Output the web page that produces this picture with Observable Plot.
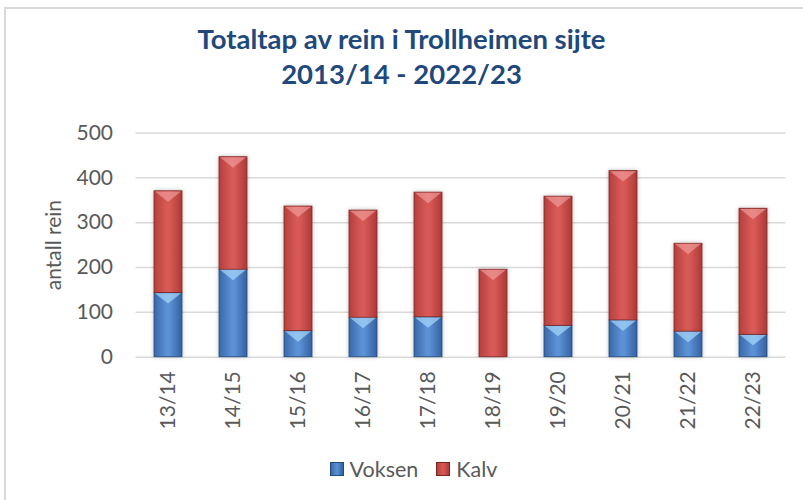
<!DOCTYPE html>
<html><head><meta charset="utf-8">
<script src="https://cdn.jsdelivr.net/npm/d3@7"></script>
<script src="https://cdn.jsdelivr.net/npm/@observablehq/plot@0.6"></script>
<style>
body{margin:0;background:#fff;}
#wrap{position:relative;width:803px;height:500px;overflow:hidden;font-family:Lato,"Open Sans",sans-serif;background:#fff;}
#frame{position:absolute;left:4px;top:7px;width:900px;height:600px;border-left:2px solid #d9d9d9;border-top:2px solid #d9d9d9;}
#title{position:absolute;left:0;width:803px;top:21px;text-align:center;color:#1F497D;font-weight:bold;font-size:27.5px;line-height:35px;letter-spacing:0px;}
#chart{position:absolute;left:0;top:110px;}
#legend{position:absolute;top:456px;left:0;width:803px;display:flex;justify-content:center;align-items:center;font-size:21.5px;color:#595959;padding-left:24px;box-sizing:border-box;}
.sw{display:inline-block;width:14px;height:14px;margin-right:6px;box-sizing:border-box;}
.item{display:flex;align-items:center;margin:0 9px;}
</style>
</head><body>
<div id="wrap">
  <div id="frame"></div>
  <div id="title">Totaltap av rein i Trollheimen sijte<br>2013/14 - 2022/23</div>
  <div id="chart"></div>
  <div id="legend"></div>
</div>
<script>
const seasons = ["13/14","14/15","15/16","16/17","17/18","18/19","19/20","20/21","21/22","22/23"];
const voksen  = [143, 195, 58, 88, 89, 0, 70, 82, 57, 50];
const kalv    = [227, 251, 278, 239, 278, 195, 288, 333, 196, 281];
const seriesNames = ["Voksen", "Kalv"];
const yTicks = [0, 100, 200, 300, 400, 500];
const yLabel = "antall rein";

const fills = {Voksen: "url(#gBlue)", Kalv: "url(#gRed)"};
const strokes = {Voksen: "#244a7c", Kalv: "#7d2523"};
const bevels = {"url(#gBlue)": "#a8d8fb", "url(#gRed)": "#f09a98"};

const data = [];
seasons.forEach((s, i) => {
  data.push({season: s, series: "Voksen", value: voksen[i]});
  data.push({season: s, series: "Kalv", value: kalv[i]});
});

const plot = Plot.plot({
  width: 803,
  height: 330,
  marginTop: 22.5,
  marginBottom: 83.3,
  marginLeft: 135.5,
  marginRight: 17.5,
  style: {fontFamily: "Lato, 'Open Sans', sans-serif", fontSize: "21px", color: "#595959", background: "transparent"},
  x: {domain: seasons, paddingInner: 0.57, paddingOuter: 0.285, label: null},
  y: {domain: [0, 500], label: null},
  color: {type: "identity"},
  marks: [
    Plot.gridY(yTicks, {stroke: "#d9d9d9", strokeOpacity: 1, strokeWidth: 1.5}),
    Plot.barY(data, Plot.stackY({
      x: "season", y: "value", order: seriesNames,
      z: "series",
      fill: d => fills[d.series],
      stroke: d => strokes[d.series],
      strokeWidth: 0.8,
      filter: d => d.value > 0
    })),
    Plot.axisY(yTicks, {tickSize: 0, tickPadding: 23, fill: "#595959", fontSize: 21}),
    Plot.axisX({tickSize: 0, tickPadding: 14, tickRotate: -90, fill: "#595959", fontSize: 21}),
    Plot.text([yLabel], {frameAnchor: "left", textAnchor: "middle", dx: -82, rotate: -90, fill: "#595959", fontSize: 21})
  ]
});

const svg = d3.select(plot);
const defs = svg.insert("defs", ":first-child");
function grad(id, stops) {
  const lg = defs.append("linearGradient").attr("id", id).attr("x1", "0").attr("x2", "1").attr("y1", "0").attr("y2", "0");
  stops.forEach(([o, c]) => lg.append("stop").attr("offset", o).attr("stop-color", c));
}
grad("gBlue", [[0, "#3a68a8"], [0.45, "#5b91d6"], [0.55, "#5b91d6"], [1, "#3461a0"]]);
grad("gRed", [[0, "#b5403d"], [0.45, "#d85a57"], [0.55, "#d85a57"], [1, "#ad3a37"]]);
const f = defs.append("filter").attr("id", "shadow").attr("x", "-30%").attr("y", "-10%").attr("width", "160%").attr("height", "120%");
f.append("feDropShadow").attr("dx", 0).attr("dy", 0).attr("stdDeviation", 2).attr("flood-color", "#000").attr("flood-opacity", 0.25);

// top bevel on each rendered bar segment
svg.selectAll('g[aria-label="bar"]').each(function() {
  const g = d3.select(this);
  g.attr("filter", "url(#shadow)");
  const rects = g.selectAll("rect").nodes();
  rects.forEach(r => {
    const x = +r.getAttribute("x"), y = +r.getAttribute("y");
    const w = +r.getAttribute("width"), h = +r.getAttribute("height");
    const fill = r.getAttribute("fill") || g.attr("fill");
    const bh = Math.min(11, h / 2);
    g.append("polygon")
      .attr("points", `${x+1},${y+0.6} ${x+w-1},${y+0.6} ${x+w/2},${y+bh}`)
      .attr("fill", bevels[fill] || "#fff")
      .attr("fill-opacity", 0.7)
      .attr("stroke", "none");
  });
});
document.getElementById("chart").appendChild(plot);

const leg = d3.select("#legend");
const legFill = {Voksen: "linear-gradient(90deg,#3a68a8,#5b91d6,#3461a0)", Kalv: "linear-gradient(90deg,#b5403d,#d85a57,#ad3a37)"};
seriesNames.forEach(n => {
  const it = leg.append("div").attr("class", "item");
  it.append("span").attr("class", "sw").style("background", legFill[n]).style("border", `1px solid ${strokes[n]}`);
  it.append("span").text(n);
});
</script>
</body></html>
